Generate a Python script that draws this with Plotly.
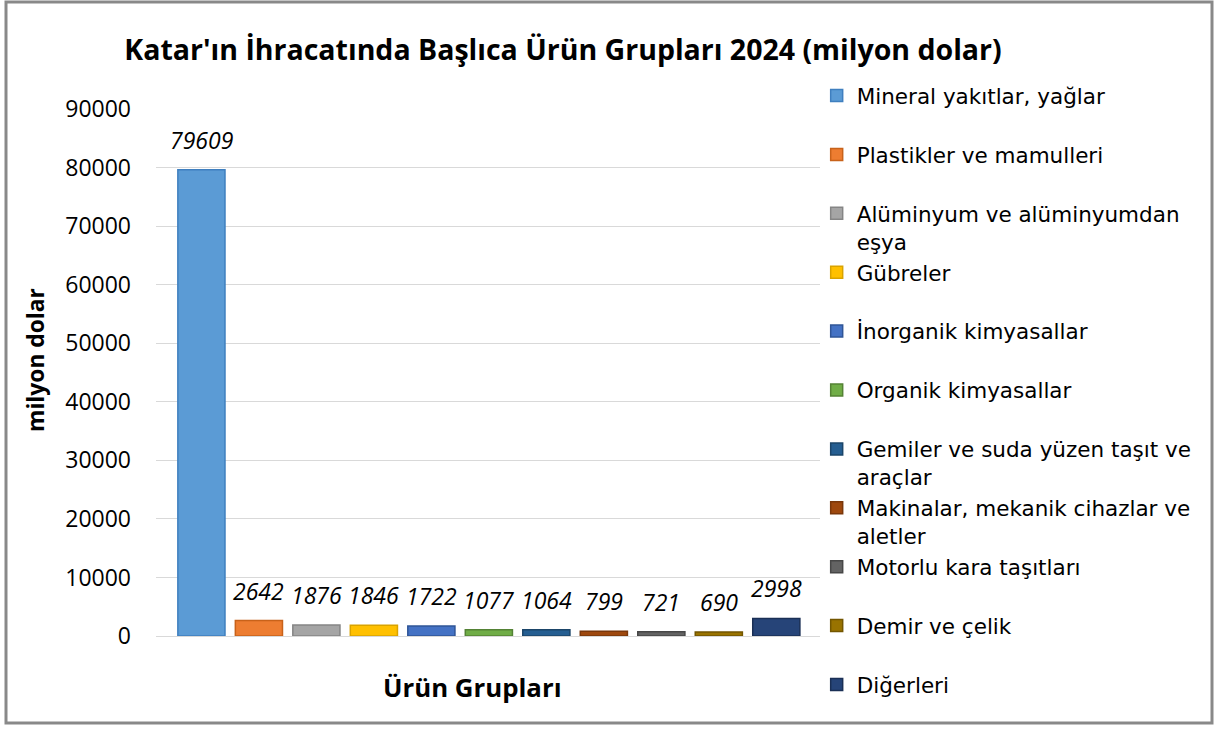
import plotly.graph_objects as go

categories = [
    "Mineral yakıtlar, yağlar",
    "Plastikler ve mamulleri",
    "Alüminyum ve alüminyumdan<br>eşya",
    "Gübreler",
    "İnorganik kimyasallar",
    "Organik kimyasallar",
    "Gemiler ve suda yüzen taşıt ve<br>araçlar",
    "Makinalar, mekanik cihazlar ve<br>aletler",
    "Motorlu kara taşıtları",
    "Demir ve çelik",
    "Diğerleri",
]
values = [79609, 2642, 1876, 1846, 1722, 1077, 1064, 799, 721, 690, 2998]
colors = ["#5B9BD5", "#ED7D31", "#A5A5A5", "#FFC000", "#4472C4", "#70AD47",
          "#255E91", "#9E480E", "#636363", "#997300", "#264478"]
edge_colors = ["#3F7FBF", "#C8621A", "#858585", "#D9A300", "#2F5597", "#548235",
               "#1B4569", "#7A370A", "#474747", "#735600", "#1A2F55"]
y_ticks = [0, 10000, 20000, 30000, 40000, 50000, 60000, 70000, 80000, 90000]
y_tick_text = [str(v) for v in y_ticks]

FONT = "Open Sans"
LEGEND_FONT = "DejaVu Sans"

fig = go.Figure()
for i, (cat, val, col, edge) in enumerate(zip(categories, values, colors, edge_colors)):
    name = cat if "<br>" in cat else cat + "<br>\u00a0"
    fig.add_trace(go.Bar(
        x=[i], y=[val], name=name,
        marker=dict(color=col, line=dict(color=edge, width=1.5)),
        width=0.82,
        hoverinfo="y",
    ))
    fig.add_annotation(
        x=i, y=val, text=f"<i>{val}</i>", showarrow=False,
        yanchor="bottom", yshift=12,
        font=dict(family=FONT, size=23, color="#000000"),
    )

fig.update_layout(
    width=1217, height=733,
    margin=dict(l=156, r=397, t=109, b=97),
    paper_bgcolor="white", plot_bgcolor="white",
    barmode="overlay",
    font=dict(family=FONT, color="#000000"),
    title=dict(
        text="<b>Katar'ın İhracatında Başlıca Ürün Grupları 2024 (milyon dolar)</b>",
        x=563 / 1217, xref="container", xanchor="center",
        y=1 - 50 / 733, yref="container", yanchor="middle",
        font=dict(family=FONT, size=28.5, color="#000000"),
    ),
    showlegend=True,
    legend=dict(
        x=0.995, xanchor="left", y=1.055, yanchor="top",
        valign="top", maxheight=1.0,
        font=dict(family=LEGEND_FONT, size=21.5, color="#000000"),
        bgcolor="rgba(0,0,0,0)", borderwidth=0,
        tracegroupgap=0,
    ),
    xaxis=dict(
        range=[-0.79, 10.76], showticklabels=False, showgrid=False,
        zeroline=False, showline=False, ticks="",
    ),
    yaxis=dict(
        range=[0, 90000], tickvals=y_ticks, ticktext=y_tick_text,
        tickfont=dict(family=FONT, size=23, color="#000000"),
        showgrid=True, gridcolor="#D9D9D9", gridwidth=1,
        zeroline=True, zerolinecolor="#D9D9D9", zerolinewidth=1,
        showline=False, ticks="", ticklabelstandoff=24,
    ),
)

fig.add_annotation(
    text="<b>Ürün Grupları</b>", xref="paper", yref="paper",
    x=(472 - 156) / 664, y=(636 - 687) / 527, showarrow=False,
    xanchor="center", yanchor="middle",
    font=dict(family=FONT, size=25.8, color="#000000"),
)
fig.add_annotation(
    text="<b>milyon dolar</b>", xref="paper", yref="paper",
    x=(35 - 156) / 664, y=(636 - 360) / 527, showarrow=False,
    textangle=-90, xanchor="center", yanchor="middle",
    font=dict(family=FONT, size=22.8, color="#000000"),
)

fig.add_shape(
    type="rect", xref="paper", yref="paper",
    x0=(6 - 156) / 664, x1=(1212 - 156) / 664,
    y0=(636 - 723) / 527, y1=(636 - 2) / 527,
    line=dict(color="#898989", width=3), fillcolor="rgba(0,0,0,0)",
    layer="below",
)

fig.write_html(
    "out.html",
    config={"displayModeBar": False},
    post_script="document.body.style.margin='0';",
)
